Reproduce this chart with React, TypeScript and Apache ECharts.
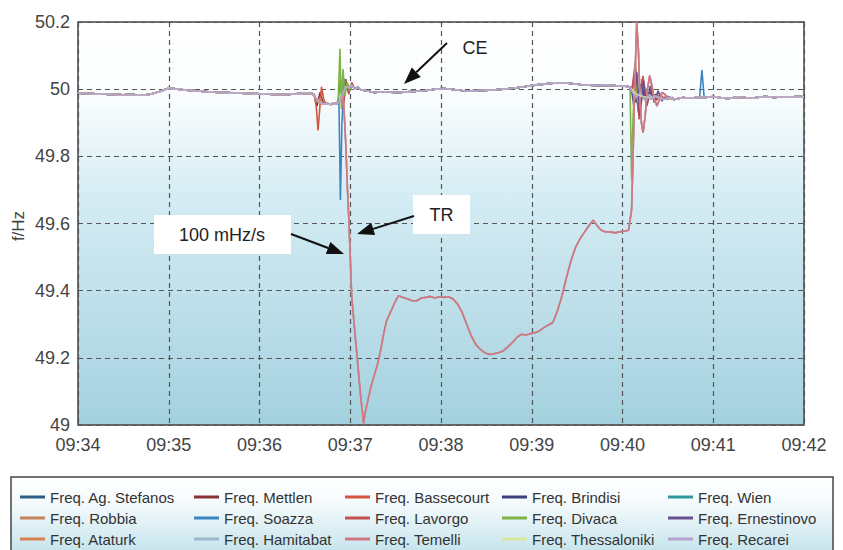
import React, { useEffect, useRef } from "react";
import * as echarts from "echarts";

type P = [number, number];

// time in seconds after 09:34:00
const xTickLabels = ["09:34", "09:35", "09:36", "09:37", "09:38", "09:39", "09:40", "09:41", "09:42"];
const yTicks = [49, 49.2, 49.4, 49.6, 49.8, 50, 50.2];
const yAxisTitle = "f/Hz";

const ceBase: P[] = [
  [0, 49.988], [6, 49.987], [12, 49.986], [18, 49.985], [24, 49.984], [30, 49.983], [36, 49.984], [42, 49.982],
  [48, 49.985], [54, 49.993], [60, 50.003], [66, 50.0], [72, 49.997], [78, 49.995], [84, 49.993], [90, 49.991],
  [96, 49.99], [102, 49.989], [108, 49.988], [114, 49.987], [120, 49.986], [126, 49.985], [132, 49.984],
  [138, 49.984], [144, 49.986], [150, 49.988], [155, 49.987], [157, 49.975], [159, 49.965], [161, 49.958],
  [163, 49.955], [165, 49.957], [167, 49.954], [169, 49.958], [171, 49.956], [173, 49.965], [175, 49.985],
  [177, 50.008], [179, 50.004], [181, 50.012], [183, 50.0], [185, 50.006], [187, 49.998], [190, 49.996],
  [193, 49.993], [196, 49.99], [200, 49.992], [206, 49.991], [212, 49.99], [218, 49.992], [224, 49.994],
  [230, 49.996], [236, 50.0], [242, 50.002], [248, 49.999], [254, 49.996], [260, 49.995], [266, 49.996],
  [272, 49.997], [278, 49.999], [284, 50.001], [290, 50.004], [296, 50.008], [302, 50.012], [308, 50.015],
  [314, 50.018], [320, 50.019], [326, 50.017], [332, 50.014], [338, 50.012], [344, 50.011], [350, 50.012],
  [356, 50.01], [362, 50.009], [365, 50.006], [367, 49.995], [369, 49.985], [371, 49.982], [373, 49.978],
  [376, 49.976], [379, 49.974], [382, 49.979], [385, 49.972], [388, 49.97], [391, 49.976], [394, 49.969],
  [397, 49.972], [400, 49.975], [405, 49.973], [410, 49.976], [415, 49.975], [420, 49.978], [425, 49.974],
  [430, 49.972], [435, 49.976], [440, 49.975], [445, 49.973], [450, 49.976], [455, 49.978], [460, 49.975],
  [465, 49.977], [470, 49.976], [475, 49.978], [480, 49.977],
];

const trSegment: P[] = [
  [175, 49.985], [176, 49.93], [177, 49.84], [178, 49.72], [179, 49.62], [180, 49.5], [181, 49.38],
  [182, 49.33], [183, 49.28], [184, 49.23], [185, 49.18], [186, 49.13], [187, 49.08], [188, 49.04],
  [188.8, 49.005], [190, 49.04], [192, 49.08], [194, 49.12], [196, 49.15], [198, 49.18], [200, 49.22],
  [202, 49.27], [204, 49.31], [206, 49.33], [208, 49.35], [210, 49.37], [212, 49.385], [215, 49.38],
  [218, 49.375], [221, 49.37], [224, 49.37], [227, 49.378], [230, 49.38], [233, 49.383], [236, 49.378],
  [239, 49.382], [242, 49.38], [245, 49.382], [248, 49.375], [251, 49.36], [254, 49.335], [257, 49.3],
  [260, 49.265], [263, 49.24], [266, 49.225], [269, 49.215], [272, 49.21], [275, 49.212], [278, 49.215],
  [281, 49.22], [284, 49.232], [287, 49.245], [290, 49.26], [293, 49.27], [296, 49.268], [299, 49.272],
  [302, 49.275], [305, 49.28], [308, 49.29], [311, 49.298], [314, 49.305], [317, 49.34], [320, 49.385],
  [323, 49.44], [326, 49.49], [329, 49.53], [332, 49.555], [335, 49.575], [338, 49.595], [340.7, 49.61],
  [343, 49.595], [346, 49.58], [349, 49.575], [352, 49.575], [355, 49.572], [358, 49.575], [361, 49.577],
  [364, 49.58], [366, 49.64], [367, 49.8], [368, 50.0], [369.4, 50.198], [370.5, 50.12], [371.5, 49.98],
  [372.5, 49.9], [373.6, 49.87], [375, 49.92], [376.5, 50.0], [378, 50.04], [379.5, 50.01], [381, 49.97],
  [382.8, 49.95], [384.5, 49.97], [386, 49.99], [388, 49.985], [390, 49.97], [393, 49.975],
];

const names = [
  "Freq. Ag. Stefanos", "Freq. Mettlen", "Freq. Bassecourt", "Freq. Brindisi", "Freq. Wien",
  "Freq. Robbia", "Freq. Soazza", "Freq. Lavorgo", "Freq. Divaca", "Freq. Ernestinovo",
  "Freq. Ataturk", "Freq. Hamitabat", "Freq. Temelli", "Freq. Thessaloniki", "Freq. Recarei",
];
const colors = [
  "#2b5d86", "#8a3034", "#d3553e", "#3d3f7a", "#2f9a9e",
  "#c9825a", "#3b86c0", "#c45050", "#7fb347", "#6a5090",
  "#d9804e", "#9bb8cc", "#d27682", "#d8e6a0", "#b4a2d0",
];

const overrides: Record<string, P[][]> = {
  "Freq. Ag. Stefanos": [
    [[366, 49.998], [368, 50.02], [370, 49.97], [372, 50.01], [374, 49.975], [376, 49.995], [379, 49.97], [382, 49.985]],
  ],
  "Freq. Mettlen": [
    [[156, 49.985], [158, 49.95], [160, 49.99], [162, 49.96], [164, 49.955]],
    [[366, 50.0], [368, 50.025], [370.5, 49.95], [373, 50.01], [376, 49.96], [379, 49.99], [382, 49.97]],
  ],
  "Freq. Bassecourt": [
    [[156, 49.985], [157.5, 49.95], [158.7, 49.877], [159.8, 49.94], [161, 50.007], [162.5, 49.97], [164, 49.955]],
    [[366, 49.995], [368, 50.04], [370.5, 49.93], [373, 50.03], [376, 49.95], [379, 50.0], [382, 49.965], [385, 49.985], [388, 49.97]],
  ],
  "Freq. Brindisi": [
    [[366, 49.998], [369, 49.96], [372, 50.015], [375, 49.97], [378, 49.99], [381, 49.975]],
  ],
  "Freq. Wien": [
    [[172, 49.965], [173.5, 50.03], [175, 49.96], [177, 50.03], [179, 49.99], [181, 50.015]],
  ],
  "Freq. Robbia": [
    [[156, 49.985], [158, 49.96], [160, 49.975], [162, 49.955]],
  ],
  "Freq. Soazza": [
    [[171, 49.958], [172.5, 49.97], [173.5, 49.67], [174.5, 49.9], [176, 50.03], [178, 50.0]],
    [[411, 49.976], [412.5, 50.057], [414, 49.975]],
  ],
  "Freq. Lavorgo": [
    [[174, 49.97], [175.5, 49.94], [177, 50.03], [179, 49.985], [181, 50.02]],
    [[366, 49.99], [368.5, 50.08], [371, 49.91], [373.5, 50.04], [376, 49.955], [378.5, 50.01], [381, 49.97]],
  ],
  "Freq. Divaca": [
    [[172, 49.965], [173.2, 50.12], [174.2, 49.94], [175.2, 50.06], [176.5, 49.98], [178, 50.02], [180, 49.995]],
    [[365, 50.005], [366, 49.73], [367, 49.92], [368.5, 50.06], [370, 49.96], [372, 50.0], [374, 49.97], [376, 49.985]],
  ],
  "Freq. Ernestinovo": [
    [[366, 49.995], [367.5, 49.95], [369.5, 50.05], [371.5, 49.92], [374, 50.025], [376, 49.95], [378.5, 50.01], [381, 49.96], [383.5, 49.995], [386, 49.965], [389, 49.98]],
  ],
  "Freq. Recarei": [
    [[366, 49.995], [369, 49.975], [372, 49.99], [375, 49.965], [378, 49.985]],
  ],
  "Freq. Ataturk": [trSegment],
  "Freq. Hamitabat": [trSegment],
  "Freq. Temelli": [trSegment],
};

const legendColumns = [
  ["Freq. Ag. Stefanos", "Freq. Robbia", "Freq. Ataturk"],
  ["Freq. Mettlen", "Freq. Soazza", "Freq. Hamitabat"],
  ["Freq. Bassecourt", "Freq. Lavorgo", "Freq. Temelli"],
  ["Freq. Brindisi", "Freq. Divaca", "Freq. Thessaloniki"],
  ["Freq. Wien", "Freq. Ernestinovo", "Freq. Recarei"],
];
const legendLefts = [20, 194, 345, 502, 668];

function buildData(name: string): P[] {
  let pts: P[] = ceBase.slice();
  for (const w of overrides[name] || []) {
    const t0 = w[0][0];
    const t1 = w[w.length - 1][0];
    pts = pts.filter((p) => p[0] < t0 || p[0] > t1).concat(w);
  }
  return pts.sort((a, b) => a[0] - b[0]);
}

function arrow(x1: number, y1: number, x2: number, y2: number) {
  const dx = x2 - x1;
  const dy = y2 - y1;
  const len = Math.sqrt(dx * dx + dy * dy);
  const ux = dx / len;
  const uy = dy / len;
  const hl = 17;
  const hw = 6.5;
  const bx = x2 - ux * hl;
  const by = y2 - uy * hl;
  return [
    { type: "line", shape: { x1, y1, x2: bx, y2: by }, style: { stroke: "#111", lineWidth: 2 }, z: 100 },
    {
      type: "polygon",
      shape: { points: [[x2, y2], [bx - uy * hw, by + ux * hw], [bx + uy * hw, by - ux * hw]] },
      style: { fill: "#111" },
      z: 100,
    },
  ];
}

export default function App() {
  const ref = useRef<HTMLDivElement>(null);
  useEffect(() => {
    document.body.style.margin = "0";
    const chart = echarts.init(ref.current!, undefined, { renderer: "svg" });
    const font = "Liberation Sans, Arial, sans-serif";
    const series = names.map((n, i) => ({
      name: n,
      type: "line",
      data: buildData(n),
      showSymbol: false,
      symbol: "none",
      color: colors[i],
      lineStyle: { width: 1.6, color: colors[i] },
      z: 2,
    }));
    const legends = legendColumns.map((col, i) => ({
      data: col,
      orient: "vertical",
      left: legendLefts[i],
      top: 488,
      padding: 0,
      itemGap: 3,
      itemWidth: 25,
      itemHeight: 3,
      icon: "rect",
      selectedMode: false,
      textStyle: { fontSize: 15, color: "#333", fontFamily: font, lineHeight: 18 },
    }));
    chart.setOption({
      animation: false,
      backgroundColor: "#ffffff",
      grid: {
        left: 78,
        right: 39,
        top: 22,
        bottom: 125,
        containLabel: false,
        outerBoundsMode: "none",
        show: true,
        borderColor: "#444",
        borderWidth: 1.5,
        backgroundColor: {
          type: "linear",
          x: 0,
          y: 0,
          x2: 0,
          y2: 1,
          colorStops: [
            { offset: 0, color: "#ffffff" },
            { offset: 0.18, color: "#fafdfe" },
            { offset: 0.45, color: "#d3ebf3" },
            { offset: 1, color: "#a4d1df" },
          ],
        },
      },
      xAxis: {
        type: "value",
        min: 0,
        max: 480,
        interval: 60,
        axisLine: { show: false },
        axisTick: { show: false },
        axisLabel: {
          margin: 11,
          fontSize: 18,
          color: "#444",
          fontFamily: font,
          formatter: (v: number) => xTickLabels[Math.round(v / 60)] ?? "",
        },
        splitLine: { show: true, lineStyle: { color: "#555", type: [5, 4], width: 1.2 } },
      },
      yAxis: {
        type: "value",
        min: yTicks[0],
        max: yTicks[yTicks.length - 1],
        interval: 0.2,
        axisLine: { show: false },
        axisTick: { show: false },
        axisLabel: {
          margin: 8,
          fontSize: 18,
          color: "#444",
          fontFamily: font,
          formatter: (v: number) => String(Math.round(v * 10) / 10),
        },
        splitLine: { show: true, lineStyle: { color: "#555", type: [5, 4], width: 1.2 } },
      },
      legend: legends,
      series,
      graphic: [
        {
          type: "text",
          x: 18,
          y: 226,
          rotation: Math.PI / 2,
          style: { text: yAxisTitle, fontSize: 17, fill: "#444", fontFamily: font, align: "center", verticalAlign: "middle" },
          z: 100,
        },
        {
          type: "rect",
          shape: { x: 11, y: 477, width: 822, height: 90 },
          style: {
            stroke: "#444",
            lineWidth: 1.5,
            fill: {
              type: "linear",
              x: 0,
              y: 0,
              x2: 0,
              y2: 1,
              colorStops: [
                { offset: 0, color: "#ffffff" },
                { offset: 0.3, color: "#f4fafc" },
                { offset: 1, color: "#b7dde8" },
              ],
            },
          },
          z: -10,
          silent: true,
        },
        // CE label
        {
          type: "text",
          x: 475,
          y: 48,
          style: { text: "CE", fontSize: 18, fill: "#222", fontFamily: font, align: "center", verticalAlign: "middle" },
          z: 100,
        },
        ...arrow(447, 43, 404, 84),
        // TR label box
        {
          type: "rect",
          shape: { x: 413, y: 195, width: 57, height: 39 },
          style: { fill: "#ffffff" },
          z: 99,
        },
        {
          type: "text",
          x: 441.5,
          y: 215,
          style: { text: "TR", fontSize: 18, fill: "#222", fontFamily: font, align: "center", verticalAlign: "middle" },
          z: 100,
        },
        ...arrow(414, 216, 357, 234),
        // 100 mHz/s box
        {
          type: "rect",
          shape: { x: 154, y: 215, width: 137, height: 39 },
          style: { fill: "#ffffff" },
          z: 99,
        },
        {
          type: "text",
          x: 222,
          y: 235,
          style: { text: "100 mHz/s", fontSize: 18, fill: "#222", fontFamily: font, align: "center", verticalAlign: "middle" },
          z: 100,
        },
        ...arrow(291, 234, 344, 254),
      ],
    });
    return () => chart.dispose();
  }, []);
  return <div ref={ref} style={{ width: 843, height: 550 }} />;
}
